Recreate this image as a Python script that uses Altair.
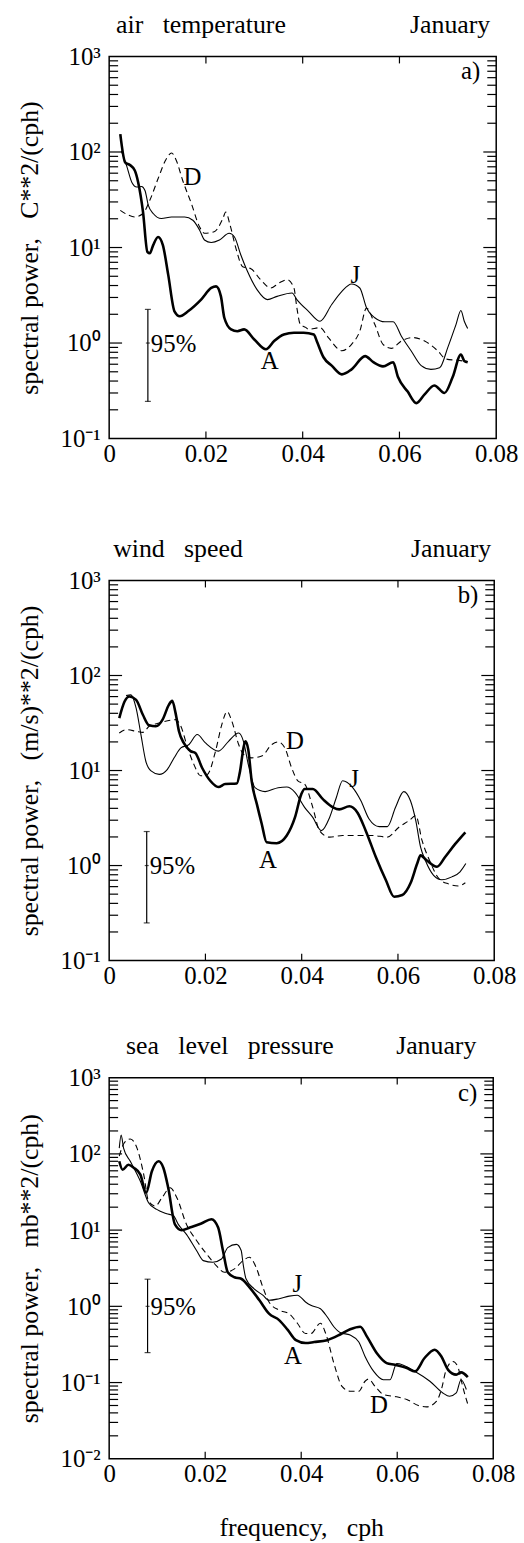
import altair as alt
import pandas as pd

FONT = "Liberation Serif"

# ---------------- panel a: air temperature ----------------
a_A_f = [0.0023,0.0033,0.0043,0.0053,0.0060,0.0070,0.0079,0.0084,0.0091,0.0101,0.0111,0.0122,0.0135,0.0146,0.0163,0.0190,0.0211,0.0221,0.0231,0.0238,0.0252,0.0265,0.0279,0.0300,0.0324,0.0341,0.0361,0.0382,0.0402,0.0423,0.0429,0.0443,0.0460,0.0481,0.0501,0.0529,0.0546,0.0566,0.0587,0.0597,0.0617,0.0635,0.0652,0.0672,0.0693,0.0710,0.0727,0.0734,0.0741]
a_A_p = [154,78,73,64,48,23.5,9.0,8.7,10.6,12.9,10.6,5.2,2.15,1.91,2.15,2.85,3.77,3.92,3.08,1.84,1.39,1.33,1.39,1.09,0.86,1.05,1.23,1.28,1.28,1.23,1.05,0.71,0.58,0.47,0.53,0.73,0.63,0.57,0.63,0.44,0.31,0.235,0.29,0.36,0.30,0.44,0.76,0.65,0.63]
a_J_f = [0.0025,0.0036,0.0047,0.0057,0.0067,0.0074,0.0081,0.0091,0.0108,0.0129,0.0156,0.0173,0.0187,0.0197,0.0211,0.0228,0.0248,0.0259,0.0272,0.0286,0.0306,0.0327,0.0347,0.0378,0.0388,0.0412,0.0436,0.0460,0.0481,0.0501,0.0518,0.0532,0.0549,0.0570,0.0587,0.0604,0.0624,0.0645,0.0665,0.0683,0.0700,0.0717,0.0727,0.0734,0.0741]
a_J_p = [103,72,48,43,43.5,39.6,27.6,22.7,20.1,20.9,20.9,19.3,15.2,12.0,11.3,12.0,14.1,12.9,8.4,5.6,3.6,2.85,3.08,3.34,2.85,2.15,1.69,2.53,3.47,4.15,3.77,2.33,1.84,1.67,1.67,1.18,0.83,0.58,0.53,0.55,0.90,1.57,2.19,1.69,1.42]
a_D_f = [0.0023,0.0040,0.0053,0.0070,0.0084,0.0101,0.0118,0.0129,0.0139,0.0152,0.0170,0.0187,0.0197,0.0217,0.0235,0.0241,0.0250,0.0262,0.0276,0.0293,0.0313,0.0334,0.0351,0.0368,0.0382,0.0388,0.0395,0.0406,0.0412,0.0436,0.0453,0.0481,0.0501,0.0518,0.0532,0.0549,0.0566,0.0583,0.0604,0.0628,0.0652,0.0679,0.0696,0.0720,0.0741]
a_D_p = [24.5,21.8,20.9,22.7,31.2,52.4,84.5,97.5,81,50.3,28.8,16.4,14.1,14.6,20.1,23.5,17.1,9.8,6.3,6.0,4.6,3.77,4.25,4.6,3.77,2.33,1.57,1.46,1.39,1.45,1.14,0.83,0.97,1.33,2.33,1.57,0.97,0.88,1.05,1.14,1.05,0.83,0.68,0.66,0.64]
a_lab_txt = ["D", "J", "A"]
a_lab_f = [0.0172, 0.0509, 0.0332]
a_lab_p = [54, 5.2, 0.65]

# ---------------- panel b: wind speed ----------------
b_A_f = [0.0021,0.0032,0.0042,0.0056,0.0070,0.0083,0.0097,0.0111,0.0124,0.0131,0.0138,0.0145,0.0155,0.0169,0.0179,0.0193,0.0210,0.0227,0.0241,0.0265,0.0272,0.0279,0.0283,0.0289,0.0296,0.0307,0.0317,0.0327,0.0348,0.0369,0.0386,0.0399,0.0406,0.0423,0.0444,0.0465,0.0478,0.0499,0.0516,0.0533,0.0554,0.0575,0.0592,0.0609,0.0626,0.0640,0.0647,0.0660,0.0681,0.0698,0.0719,0.0740]
b_A_p = [35.6,53.2,60,55.4,38.6,29.9,29.2,34.3,49.1,54.1,40.2,25.9,19.5,16.0,15.3,10.7,7.8,6.7,7.2,7.3,9.9,17.3,20.3,16.6,7.8,4.4,2.74,1.76,1.72,2.07,3.21,5.6,6.4,6.4,5.0,4.1,3.9,4.2,3.6,2.33,1.23,0.70,0.47,0.49,0.65,1.05,1.28,1.13,0.97,1.23,1.69,2.24]
b_J_f = [0.0035,0.0045,0.0056,0.0066,0.0076,0.0087,0.0104,0.0121,0.0135,0.0149,0.0166,0.0183,0.0200,0.0227,0.0248,0.0269,0.0279,0.0289,0.0303,0.0324,0.0351,0.0369,0.0386,0.0406,0.0423,0.0441,0.0458,0.0472,0.0485,0.0506,0.0523,0.0540,0.0561,0.0578,0.0595,0.0612,0.0626,0.0637,0.0647,0.0657,0.0674,0.0691,0.0712,0.0729,0.0741]
b_J_p = [61.5,62.5,45.3,23.9,12.6,9.9,9.1,10.3,13.6,17.3,18.8,23.9,19.5,16.0,20.3,24.8,20.3,11.6,6.6,6.0,6.6,6.7,5.9,4.1,3.21,2.33,3.21,5.2,7.8,6.6,4.8,3.09,2.57,2.57,4.1,6.0,4.8,2.97,1.56,1.13,0.79,0.71,0.76,0.86,1.05]
b_D_f = [0.0021,0.0035,0.0056,0.0070,0.0083,0.0104,0.0138,0.0149,0.0162,0.0176,0.0190,0.0204,0.0221,0.0234,0.0245,0.0255,0.0269,0.0279,0.0296,0.0317,0.0338,0.0351,0.0365,0.0379,0.0392,0.0406,0.0423,0.0437,0.0458,0.0485,0.0520,0.0547,0.0578,0.0602,0.0623,0.0637,0.0650,0.0667,0.0685,0.0705,0.0726,0.0740]
b_D_p = [24.8,26.9,25.9,25.2,29.2,31.6,34.3,29.2,18.0,11.6,8.8,9.1,16.0,30.4,41.8,32.9,18.8,14.8,13.6,14.2,18.8,20.0,17.3,10.7,7.8,7.2,4.1,2.33,1.99,2.07,2.07,2.07,1.99,2.53,2.97,3.35,1.84,1.09,0.73,0.64,0.61,0.66]
b_lab_txt = ["D", "J", "A"]
b_lab_f = [0.0386, 0.0509, 0.0330]
b_lab_p = [20.3, 8.1, 1.13]

# ---------------- panel c: sea level pressure ----------------
c_A_f = [0.0021,0.0028,0.0040,0.0051,0.0065,0.0077,0.0089,0.0103,0.0113,0.0123,0.0137,0.0151,0.0168,0.0192,0.0213,0.0227,0.0237,0.0247,0.0261,0.0275,0.0292,0.0313,0.0333,0.0354,0.0372,0.0389,0.0409,0.0427,0.0454,0.0482,0.0502,0.0523,0.0537,0.0558,0.0578,0.0595,0.0620,0.0637,0.0657,0.0678,0.0692,0.0706,0.0723,0.0733,0.0747]
c_A_p = [80,62,72,66,53.4,30.9,59.2,79.9,65.3,35.9,11.9,9.97,10.8,12.2,13.9,10.8,5.4,2.8,2.41,2.30,1.79,1.20,0.80,0.66,0.49,0.36,0.33,0.34,0.36,0.43,0.50,0.54,0.40,0.24,0.18,0.171,0.155,0.140,0.21,0.27,0.22,0.147,0.127,0.136,0.118]
c_J_f = [0.0021,0.0025,0.0030,0.0044,0.0065,0.0082,0.0099,0.0120,0.0134,0.0144,0.0161,0.0182,0.0196,0.0216,0.0234,0.0247,0.0265,0.0275,0.0279,0.0285,0.0302,0.0320,0.0333,0.0354,0.0375,0.0392,0.0409,0.0420,0.0440,0.0454,0.0468,0.0482,0.0502,0.0520,0.0533,0.0551,0.0571,0.0585,0.0599,0.0637,0.0668,0.0695,0.0709,0.0723,0.0733,0.0744]
c_J_p = [119,177,119,80,43.8,22.9,18.7,16.4,15.4,11.9,8.8,5.4,3.98,3.79,4.18,5.9,6.5,5.4,3.6,2.30,1.70,1.40,1.20,1.26,1.36,1.40,1.14,1.03,0.93,0.73,0.54,0.45,0.42,0.34,0.22,0.140,0.109,0.109,0.178,0.140,0.104,0.073,0.066,0.073,0.109,0.081]
c_D_f = [0.0021,0.0031,0.0044,0.0058,0.0072,0.0082,0.0096,0.0110,0.0127,0.0141,0.0161,0.0182,0.0203,0.0223,0.0240,0.0261,0.0279,0.0292,0.0306,0.0320,0.0333,0.0354,0.0375,0.0392,0.0409,0.0420,0.0440,0.0451,0.0468,0.0485,0.0502,0.0520,0.0533,0.0540,0.0554,0.0571,0.0599,0.0620,0.0644,0.0661,0.0682,0.0692,0.0702,0.0716,0.0726,0.0733,0.0740,0.0747]
c_D_p = [93.6,138,157,119,53.4,24.1,20.7,26.6,35.9,26.6,11.9,7.3,4.86,3.43,2.8,3.10,3.98,4.40,3.26,1.79,1.14,0.89,0.80,0.60,0.44,0.44,0.60,0.44,0.18,0.089,0.077,0.077,0.104,0.111,0.089,0.070,0.065,0.060,0.050,0.048,0.057,0.081,0.147,0.189,0.163,0.109,0.073,0.052]
c_lab_txt = ["J", "A", "D"]
c_lab_f = [0.0392, 0.0383, 0.0562]
c_lab_p = [1.98, 0.22, 0.050]

# 95% confidence bar
ci_f = [0.0080, 0.0078, 0.0080]
ci_lo = [0.245, 0.249, 0.247]
ci_hi = [2.25, 2.28, 2.27]
ci_mid = [1.0, 1.0, 1.0]

# axis tick values
x_labels = [0, 0.02, 0.04, 0.06, 0.08]
x_inner_ticks = [0.02, 0.04, 0.06]
minor_mults = [2, 3, 4, 5, 6, 7, 8, 9]
decades_ab = [0.1, 1, 10, 100, 1000]
decades_c = [0.01, 0.1, 1, 10, 100, 1000]

Y_LABEL_EXPR = ("datum.value >= 500 ? '10\u00b3' : datum.value >= 50 ? '10\u00b2' : "
                "datum.value >= 5 ? '10\u00b9' : datum.value >= 0.5 ? '10\u2070' : "
                "datum.value >= 0.05 ? '10\u207b\u00b9' : '10\u207b\u00b2'")
NB = "\u00a0"


def panel(series, decades, width, height, ytitle, tl_text, tl_dx, tr_dx, corner,
          lab_txt, lab_f, lab_p, k, xtitle=None, frame=None):
    xscale = alt.Scale(domain=[0, 0.08], nice=False, zero=False)
    yscale = alt.Scale(type="log", domain=[decades[0], decades[-1]], nice=False)
    xaxis_kw = dict(values=x_labels, ticks=False, domain=False, grid=False, labelPadding=3,
                    labelExpr="datum.value == 0 ? '0' : format(datum.value, '.2f')",
                    labelFlush=False, labelOverlap=False)
    if xtitle:
        xaxis_kw.update(title=xtitle, titleY=69, titleBaseline="middle")
    else:
        xaxis_kw.update(title=None)
    xaxis = alt.Axis(**xaxis_kw)
    yaxis = alt.Axis(values=decades, ticks=False, domain=False, grid=False, labelPadding=9,
                     labelExpr=Y_LABEL_EXPR, title=ytitle, titleX=-80, titleBaseline="middle",
                     labelFlush=False, labelOverlap=False)

    def X(f):
        return alt.X(f, type="quantitative", scale=xscale, axis=xaxis)

    def Y(f):
        return alt.Y(f, type="quantitative", scale=yscale, axis=yaxis)

    layers = []
    styles = {"A": dict(strokeWidth=2.6), "J": dict(strokeWidth=1.1),
              "D": dict(strokeWidth=1.1, strokeDash=[6, 4])}
    for name, (f, p) in series.items():
        df = pd.DataFrame({"f": f, "p": p})
        layers.append(alt.Chart(df).mark_line(color="black", interpolate="monotone",
                                               **styles[name]).encode(x=X("f"), y=Y("p")))

    minor = pd.DataFrame({"v": [m * d for d in decades[:-1] for m in minor_mults]})
    major = pd.DataFrame({"v": decades[1:-1]})
    for df, ln in ((minor, 9), (major, 13)):
        layers.append(alt.Chart(df).mark_rule(color="black", strokeWidth=1.2).encode(
            y=Y("v"), x=alt.value(0), x2=alt.value(ln)))
        layers.append(alt.Chart(df).mark_rule(color="black", strokeWidth=1.2).encode(
            y=Y("v"), x=alt.value(width - ln), x2=alt.value(width)))
    xt = pd.DataFrame({"v": x_inner_ticks})
    layers.append(alt.Chart(xt).mark_rule(color="black", strokeWidth=1.2).encode(
        x=X("v"), y=alt.value(0), y2=alt.value(7)))
    layers.append(alt.Chart(xt).mark_rule(color="black", strokeWidth=1.2).encode(
        x=X("v"), y=alt.value(height - 7), y2=alt.value(height)))

    ci = pd.DataFrame({"f": [ci_f[k]], "lo": [ci_lo[k]], "hi": [ci_hi[k]], "mid": [ci_mid[k]]})
    layers.append(alt.Chart(ci).mark_rule(color="black", strokeWidth=1.2).encode(
        x=X("f"), y=Y("lo"), y2=alt.Y2("hi")))
    for col, sz in (("lo", 6), ("hi", 6), ("mid", 4)):
        layers.append(alt.Chart(ci).mark_tick(color="black", orient="horizontal", size=sz,
                                              thickness=1.2).encode(x=X("f"), y=Y(col)))
    layers.append(alt.Chart(ci).mark_text(font=FONT, fontSize=25, color="black", align="left",
                                          baseline="middle", dx=3, dy=1).encode(
        x=X("f"), y=Y("mid"), text=alt.value("95%")))

    labs = pd.DataFrame({"t": lab_txt, "f": lab_f, "p": lab_p})
    layers.append(alt.Chart(labs).mark_text(font=FONT, fontSize=25, color="black",
                                            baseline="middle").encode(
        x=X("f"), y=Y("p"), text="t:N"))

    one = pd.DataFrame({"t": [corner]})
    layers.append(alt.Chart(one).mark_text(font=FONT, fontSize=25, color="black", align="right",
                                           baseline="middle").encode(
        x=alt.value(width - 16), y=alt.value(15), text="t:N"))
    layers.append(alt.Chart(pd.DataFrame({"t": [tl_text]})).mark_text(
        font=FONT, fontSize=26, color="black", align="left", baseline="middle").encode(
        x=alt.value(tl_dx), y=alt.value(-32), text="t:N"))
    layers.append(alt.Chart(pd.DataFrame({"t": ["January"]})).mark_text(
        font=FONT, fontSize=26, color="black", align="right", baseline="middle").encode(
        x=alt.value(width + tr_dx), y=alt.value(-32), text="t:N"))

    # invisible page-extent guide (fixes the figure's outer margins)
    if frame is not None:
        x0, x1, yy = frame
        layers.append(alt.Chart(pd.DataFrame({"v": [0]})).mark_rule(
            opacity=0, strokeWidth=1).encode(x=alt.value(x0), x2=alt.value(x1), y=alt.value(yy)))

    return alt.layer(*layers).properties(width=width, height=height)


def spacer(h):
    return alt.Chart(pd.DataFrame({"v": [0]})).mark_point(opacity=0).encode(
        x=alt.X("v:Q", axis=None), y=alt.Y("v:Q", axis=None)
    ).properties(width=388, height=h, view=alt.ViewBackground(stroke="transparent"))


pa = panel({"J": (a_J_f, a_J_p), "D": (a_D_f, a_D_p), "A": (a_A_f, a_A_p)}, decades_ab,
           390, 385, "spectral power," + NB * 3 + "C**2/(cph)",
           "air" + NB * 3 + "temperature", 7, -6, "a)", a_lab_txt, a_lab_f, a_lab_p, 0,
           frame=(-108.5, 414.5, -49.5))
pb = panel({"J": (b_J_f, b_J_p), "D": (b_D_f, b_D_p), "A": (b_A_f, b_A_p)}, decades_ab,
           388, 383, "spectral power," + NB * 3 + "(m/s)**2/(cph)",
           "wind" + NB * 3 + "speed", 4, -3, "b)", b_lab_txt, b_lab_f, b_lab_p, 1)
pc = panel({"J": (c_J_f, c_J_p), "D": (c_D_f, c_D_p), "A": (c_A_f, c_A_p)}, decades_c,
           387, 384, "spectral power," + NB * 3 + "mb**2/(cph)",
           "sea" + NB * 3 + "level" + NB * 3 + "pressure", 17, -17, "c)",
           c_lab_txt, c_lab_f, c_lab_p, 2, xtitle="frequency," + NB * 3 + "cph",
           frame=(-106.5, 416.5, 463.5))

chart = alt.vconcat(pa, spacer(143), pb, spacer(118), pc, spacing=0, bounds="flush").properties(
    padding=0,
    background="white",
).configure_view(stroke="black", strokeWidth=1.5).configure_axis(
    labelFont=FONT, labelFontSize=25, labelColor="black",
    titleFont=FONT, titleFontSize=26, titleFontWeight="normal", titleColor="black",
)

chart.save("out.html", embed_options={"renderer": "svg", "actions": False})
